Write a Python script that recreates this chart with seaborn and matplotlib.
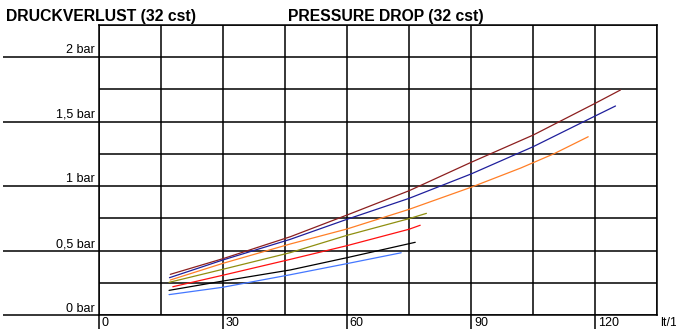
import matplotlib
matplotlib.use("Agg")
import matplotlib.pyplot as plt
import pandas as pd
import seaborn as sns

# Flow rate (lt/1') and pressure drop (bar) for each curve
x_brown = [17.3, 30, 46.3, 60, 75, 90, 105, 120, 126.1]
y_brown = [0.317, 0.438, 0.608, 0.776, 0.964, 1.184, 1.395, 1.641, 1.744]

x_navy = [17.1, 30, 46.3, 60, 75, 90, 105, 120, 124.9]
y_navy = [0.291, 0.428, 0.588, 0.743, 0.905, 1.094, 1.305, 1.543, 1.620]

x_orange = [17.3, 30, 46.3, 60, 75, 90, 102, 110, 118.3]
y_orange = [0.273, 0.402, 0.552, 0.668, 0.820, 0.991, 1.140, 1.250, 1.382]

x_olive = [17.0, 30, 46.3, 60, 75, 79.2]
y_olive = [0.255, 0.356, 0.485, 0.619, 0.748, 0.789]

x_red = [17.9, 30, 46.3, 60, 75, 77.7]
y_red = [0.221, 0.310, 0.433, 0.539, 0.666, 0.697]

x_black = [17.0, 30, 46.3, 60, 76.5]
y_black = [0.193, 0.265, 0.351, 0.446, 0.565]

x_lightblue = [17.0, 30, 46.3, 60, 73.1]
y_lightblue = [0.160, 0.217, 0.314, 0.400, 0.484]

x_ticks = [0, 30, 60, 90, 120]
y_ticks = [0, 0.5, 1, 1.5, 2]
y_tick_labels = ["0 bar", "0,5 bar", "1 bar", "1,5 bar", "2 bar"]

series = {
    "brown": (x_brown, y_brown, "#8c1f1f"),
    "navy": (x_navy, y_navy, "#1f1f9c"),
    "orange": (x_orange, y_orange, "#ff7f27"),
    "olive": (x_olive, y_olive, "#8f8f10"),
    "red": (x_red, y_red, "#ff1010"),
    "black": (x_black, y_black, "#000000"),
    "lightblue": (x_lightblue, y_lightblue, "#4477ff"),
}

rows = []
for name, (xs, ys, _) in series.items():
    for xv, yv in zip(xs, ys):
        rows.append({"curve": name, "flow": xv, "dp": yv})
df = pd.DataFrame(rows)
palette = {name: c for name, (_, _, c) in series.items()}

sns.set_theme(style="white")
plt.rcParams["font.family"] = ["Liberation Sans", "DejaVu Sans"]

fig = plt.figure(figsize=(6.76, 3.29), dpi=100)
ax = fig.add_axes([98.7 / 676, 1 - 315.3 / 329, (657.3 - 98.7) / 676, (315.3 - 24.6) / 329])

sns.lineplot(data=df, x="flow", y="dp", hue="curve", palette=palette,
             sort=False, estimator=None, legend=False, linewidth=0.9, ax=ax)

ax.set_xlim(0, 135)
ax.set_ylim(0, 2.25)

# grid every 15 lt/1' and 0.25 bar; labelled positions carry long ticks
ax.set_xticks(x_ticks)
ax.set_yticks(y_ticks)
ax.set_xticks([v for v in range(0, 136, 15)], minor=True)
ax.set_yticks([v * 0.25 for v in range(0, 10)], minor=True)
ax.grid(True, which="both", color="black", linewidth=1.1)
for s in ax.spines.values():
    s.set_color("black")
    s.set_linewidth(1.1)

ax.set_xticklabels([])
ax.set_yticklabels([])
ax.tick_params(axis="x", which="major", length=10, width=1.1, color="black", direction="out", bottom=True)
ax.tick_params(axis="y", which="major", length=69, width=1.1, color="black", direction="out", left=True)
ax.tick_params(which="minor", length=0)
ax.set_xlabel("")
ax.set_ylabel("")

for v, lab in zip(y_ticks, y_tick_labels):
    ax.annotate(lab, xy=(0, v), xycoords=("axes fraction", "data"),
                xytext=(-2.6, 2.6), textcoords="offset points",
                ha="right", va="baseline", fontsize=9, color="black")

for v in x_ticks:
    ax.annotate(str(v), xy=(v, 0), xycoords=("data", "axes fraction"),
                xytext=(2, -1.5), textcoords="offset points",
                ha="left", va="top", fontsize=9, color="black")

ax.annotate("lt/1'", xy=(1, 0), xycoords="axes fraction",
            xytext=(2, -1.5), textcoords="offset points",
            ha="left", va="top", fontsize=9, color="black", annotation_clip=False)

fig.text(6.5 / 676, 1 - 20.5 / 329, "DRUCKVERLUST (32 cst)", fontsize=11.3,
         fontweight="bold", ha="left", va="baseline", color="black")
fig.text(287.5 / 676, 1 - 20.5 / 329, "PRESSURE DROP (32 cst)", fontsize=11.3,
         fontweight="bold", ha="left", va="baseline", color="black")

fig.savefig("out.png", dpi=100)
